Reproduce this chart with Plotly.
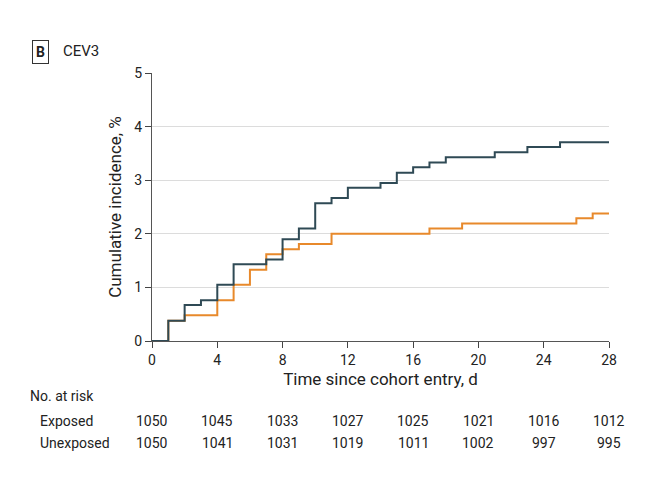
import plotly.graph_objects as go

exp_t = [0, 1, 2, 3, 4, 5, 7, 8, 9, 10, 11, 12, 14, 15, 16, 17, 18, 21, 23, 25, 28]
exp_y = [0, 0.38, 0.67, 0.76, 1.05, 1.43, 1.52, 1.90, 2.10, 2.57, 2.67, 2.86, 2.95, 3.14, 3.24, 3.33, 3.43, 3.52, 3.62, 3.71, 3.71]
unexp_t = [0, 1, 2, 4, 5, 6, 7, 8, 9, 11, 17, 19, 26, 27, 28]
unexp_y = [0, 0.38, 0.48, 0.76, 1.05, 1.33, 1.62, 1.71, 1.81, 2.0, 2.1, 2.19, 2.29, 2.38, 2.38]

risk_days = [0, 4, 8, 12, 16, 20, 24, 28]
risk_exposed = [1050, 1045, 1033, 1027, 1025, 1021, 1016, 1012]
risk_unexposed = [1050, 1041, 1031, 1019, 1011, 1002, 997, 995]

fig = go.Figure()
fig.add_trace(go.Scatter(x=unexp_t, y=unexp_y, mode="lines", line=dict(shape="hv", color="#e8892b", width=2)))
fig.add_trace(go.Scatter(x=exp_t, y=exp_y, mode="lines", line=dict(shape="hv", color="#2f4a55", width=2)))

fig.update_layout(
    width=648, height=482, showlegend=False,
    margin=dict(l=144, r=47, t=65, b=149),
    plot_bgcolor="white", paper_bgcolor="white",
    font=dict(family="Roboto", size=14, color="#222"),
    xaxis=dict(range=[0, 28], tickvals=risk_days, showgrid=False, ticks="outside", ticklen=6,
               showline=True, linecolor="#555", zeroline=False, automargin=False,
               title=dict(text="Time since cohort entry, d", standoff=6)),
    yaxis=dict(range=[0, 5], dtick=1, gridcolor="#dcdcdc", ticks="outside", ticklen=6,
               showline=True, linecolor="#555", zeroline=False, automargin=False,
               title=dict(text="Cumulative incidence, %", standoff=8)),
)

def xpos(px):
    return (px - 144) / 457

def ypos(py):
    return (333 - py) / 268

fig.add_annotation(x=xpos(32), y=ypos(32), xref="paper", yref="paper", xanchor="center",
                   text="<b>B</b>", showarrow=False, bordercolor="#333", borderwidth=1, borderpad=3)
fig.add_annotation(x=xpos(53), y=ypos(32), xref="paper", yref="paper", xanchor="left",
                   text="CEV3", showarrow=False, font=dict(size=15))

fig.add_annotation(x=xpos(20), y=ypos(398), xref="paper", yref="paper", xanchor="left",
                   text="No. at risk", showarrow=False)
fig.add_annotation(x=xpos(30), y=ypos(423), xref="paper", yref="paper", xanchor="left",
                   text="Exposed", showarrow=False)
fig.add_annotation(x=xpos(30), y=ypos(445), xref="paper", yref="paper", xanchor="left",
                   text="Unexposed", showarrow=False)
for d, e, u in zip(risk_days, risk_exposed, risk_unexposed):
    fig.add_annotation(x=d, y=ypos(423), xref="x", yref="paper", xanchor="center", text=str(e), showarrow=False)
    fig.add_annotation(x=d, y=ypos(445), xref="x", yref="paper", xanchor="center", text=str(u), showarrow=False)

fig.write_html("out.html")
